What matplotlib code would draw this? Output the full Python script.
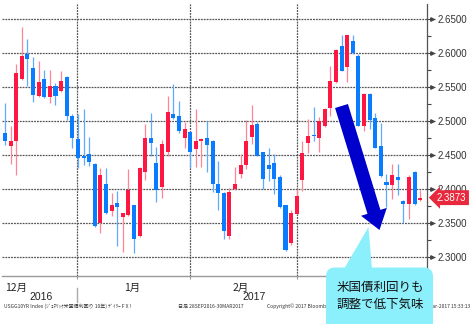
import numpy as np
import matplotlib.pyplot as plt
import matplotlib.transforms as mtransforms
from matplotlib.patches import FancyBboxPatch, Polygon, FancyArrow

plt.rcParams['font.family'] = ['Noto Sans CJK JP', 'DejaVu Sans']

# 米国債10年利回り 日足 (2016/12 - 2017/3)
opens = [2.482, 2.464, 2.470, 2.562, 2.5985, 2.578, 2.537, 2.562, 2.535, 2.552,
         2.544, 2.565, 2.508, 2.474, 2.448, 2.451, 2.437, 2.350, 2.408, 2.368,
         2.380, 2.359, 2.362, 2.376, 2.331, 2.425, 2.475, 2.439, 2.403, 2.455,
         2.511, 2.508, 2.475, 2.484, 2.459, 2.471, 2.475, 2.471, 2.408, 2.394,
         2.331, 2.3995, 2.4225, 2.435, 2.477, 2.496, 2.454, 2.435, 2.438, 2.417,
         2.376, 2.320, 2.364, 2.414, 2.467, 2.480, 2.475, 2.492, 2.519, 2.557,
         2.611, 2.579, 2.617, 2.595, 2.493, 2.540, 2.504, 2.463, 2.410, 2.406,
         2.418, 2.383, 2.378, 2.425, 2.384]
highs = [2.527, 2.493, 2.584, 2.639, 2.620, 2.594, 2.589, 2.575, 2.575, 2.556,
         2.574, 2.566, 2.510, 2.510, 2.517, 2.477, 2.438, 2.431, 2.431, 2.394,
         2.397, 2.365, 2.430, 2.377, 2.432, 2.495, 2.512, 2.462, 2.472, 2.537,
         2.554, 2.529, 2.498, 2.485, 2.517, 2.475, 2.500, 2.472, 2.441, 2.395,
         2.402, 2.433, 2.451, 2.502, 2.523, 2.498, 2.455, 2.4605, 2.452, 2.421,
         2.377, 2.369, 2.400, 2.470, 2.503, 2.520, 2.506, 2.519, 2.581, 2.606,
         2.627, 2.627, 2.627, 2.598, 2.541, 2.541, 2.512, 2.497, 2.422, 2.437,
         2.437, 2.384, 2.421, 2.426, 2.399]
lows = [2.465, 2.437, 2.421, 2.560, 2.551, 2.528, 2.535, 2.534, 2.526, 2.524,
        2.543, 2.502, 2.460, 2.431, 2.435, 2.434, 2.344, 2.335, 2.363, 2.360,
        2.316, 2.307, 2.361, 2.306, 2.330, 2.414, 2.449, 2.381, 2.387, 2.449,
        2.503, 2.483, 2.461, 2.431, 2.432, 2.432, 2.425, 2.395, 2.369, 2.326,
        2.326, 2.399, 2.4165, 2.429, 2.466, 2.448, 2.400, 2.412, 2.392, 2.372,
        2.309, 2.317, 2.363, 2.397, 2.453, 2.471, 2.455, 2.491, 2.507, 2.556,
        2.573, 2.557, 2.598, 2.492, 2.485, 2.488, 2.460, 2.418, 2.373, 2.386,
        2.391, 2.350, 2.356, 2.377, 2.383]
closes = [2.471, 2.471, 2.571, 2.596, 2.591, 2.538, 2.558, 2.535, 2.552, 2.537,
          2.559, 2.507, 2.475, 2.445, 2.445, 2.440, 2.346, 2.421, 2.365, 2.377,
          2.3735, 2.365, 2.398, 2.327, 2.431, 2.475, 2.467, 2.398, 2.466, 2.513,
          2.504, 2.485, 2.489, 2.454, 2.471, 2.474, 2.465, 2.408, 2.394, 2.338,
          2.396, 2.408, 2.436, 2.471, 2.494, 2.449, 2.415, 2.429, 2.415, 2.374,
          2.311, 2.365, 2.390, 2.453, 2.478, 2.4775, 2.4995, 2.518, 2.559, 2.605,
          2.574, 2.626, 2.600, 2.493, 2.540, 2.502, 2.461, 2.419, 2.406, 2.421,
          2.413, 2.378, 2.418, 2.378, 2.3873]

price_ticks = [2.30, 2.35, 2.40, 2.45, 2.50, 2.55, 2.60, 2.65]
grid_x = [12.8, 33.0, 52.1]
month_labels = ['12月', '1月', '2月']
month_pos = [0.1, 21.2, 40.6]
year_labels = ['2016', '2017']
year_pos = [4.4, 42.4]

UP = '#ff1744'
DOWN = '#0a7cff'
UP_WICK = '#ff8596'
DOWN_WICK = '#5fa9ff'
GRID = '#555555'

W, H = 476, 324
fig = plt.figure(figsize=(W / 100, H / 100), dpi=100)
fig.patch.set_facecolor('white')

# main candle panel (pixel box 2..427 x 4..276)
ax = fig.add_axes([2 / W, (H - 276) / H, 425 / W, 272 / H])
ax.set_xlim(-0.535, 75.22)
ax.set_ylim(2.2721, 2.6721)

o = np.array(opens)
h = np.array(highs)
l = np.array(lows)
c = np.array(closes)
x = np.arange(len(o))
up = c >= o

ax.vlines(x[up], l[up], h[up], color=UP_WICK, lw=0.9, zorder=2)
ax.vlines(x[~up], l[~up], h[~up], color=DOWN_WICK, lw=0.9, zorder=2)
body = np.maximum(np.abs(c - o), 0.0015)
ax.bar(x[up], body[up], bottom=np.minimum(o, c)[up], width=0.72,
       color=UP, linewidth=0, zorder=3)
ax.bar(x[~up], body[~up], bottom=np.minimum(o, c)[~up], width=0.72,
       color=DOWN, linewidth=0, zorder=3)

# dotted grid
for p in price_ticks:
    ax.axhline(p, color=GRID, lw=0.9, ls=(0, (1.5, 0.8)), zorder=1)
for gx in grid_x:
    ax.axvline(gx, color=GRID, lw=0.9, ls=(0, (1.5, 0.8)), zorder=1)

for s in ['top', 'left']:
    ax.spines[s].set_visible(False)
ax.spines['bottom'].set_color('#9a9a9a')
ax.spines['bottom'].set_linewidth(1.0)
ax.spines['right'].set_color(GRID)
ax.spines['right'].set_linestyle((0, (1.5, 0.8)))
ax.spines['right'].set_linewidth(0.9)

ax.yaxis.tick_right()
ax.set_yticks(price_ticks)
ax.set_yticklabels(['%.4f' % p for p in price_ticks], fontsize=7,
                   family=['Liberation Sans'], color='#333333')
ax.set_yticks([p + 0.025 for p in price_ticks[:-1]], minor=True)
ax.tick_params(axis='y', which='major', length=6, width=0.8, color='#444444', pad=1.5)
ax.tick_params(axis='y', which='minor', length=3, width=0.8, color='#444444')
# small arrow heads on the price ticks
trans_y = mtransforms.blended_transform_factory(ax.transAxes, ax.transData)
ax.plot([1 + 5 / 425] * len(price_ticks), price_ticks, marker='>', ms=2.5,
        color='#444444', ls='none', transform=trans_y, clip_on=False)

ax.set_xticks(grid_x)
ax.set_xticklabels([])
ax.tick_params(axis='x', length=2, width=0.8, color='#9a9a9a')

trans_x = mtransforms.blended_transform_factory(ax.transData, ax.transAxes)
for lab, px in zip(month_labels, month_pos):
    ax.text(px, -0.025, lab, transform=trans_x, fontsize=7.5, ha='left', va='top',
            color='#222222')
for lab, px in zip(year_labels, year_pos):
    ax.text(px, -0.06, lab, transform=trans_x, fontsize=7.5, ha='left', va='top',
            color='#222222', family=['Liberation Sans'])
ax.plot([grid_x[0], grid_x[0]], [-0.044, -0.096], color='#aaaaaa', lw=1,
        transform=trans_x, clip_on=False)

# last price tag
ax.text(1 + 10 / 425, closes[-1], '%.4f' % closes[-1], transform=trans_y,
        fontsize=7, color='white', ha='left', va='center', family=['Liberation Sans'],
        bbox=dict(boxstyle='larrow,pad=0.25', fc='#e8283c', ec='none'))

# overlay in pixel units for notes
ov = fig.add_axes([0, 0, 1, 1])
ov.set_xlim(0, W)
ov.set_ylim(H, 0)
ov.axis('off')
ov.patch.set_alpha(0)

foot = dict(fontsize=3.6, color='#333333', va='center', ha='left')
ov.text(4, 306, 'USGG10YR Index (ｼﾞｪﾈﾘｯｸ米国債利回り 10年) ﾃﾞｲﾘｰ F X !', **foot)
ov.text(178, 306, '日足 28SEP2016-30MAR2017', **foot)
ov.text(267, 306, 'Copyright© 2017 Bloomberg Finance L.P.', **foot)
ov.text(470, 306, '30-Mar-2017 15:33:13', **dict(foot, ha='right'))

ov.add_patch(FancyArrow(341.5, 106, 38, 124, width=13.5, head_width=27,
                        head_length=19, length_includes_head=True,
                        fc='#0000cc', ec='none', zorder=5))

cyan = '#8cf0fc'
ov.add_patch(FancyBboxPatch((326, 267.5), 107, 70, boxstyle='round,pad=0,rounding_size=9',
                            fc=cyan, ec='none', zorder=6))
ov.add_patch(Polygon([(344, 269), (368.5, 227), (372, 269)], closed=True,
                     fc=cyan, ec='none', zorder=6))
ov.text(380.5, 296, '米国債利回りも\n調整で低下気味', fontsize=9, ha='center', va='center',
        linespacing=1.45, color='#111111', zorder=7)

fig.savefig('out.png', dpi=100)
